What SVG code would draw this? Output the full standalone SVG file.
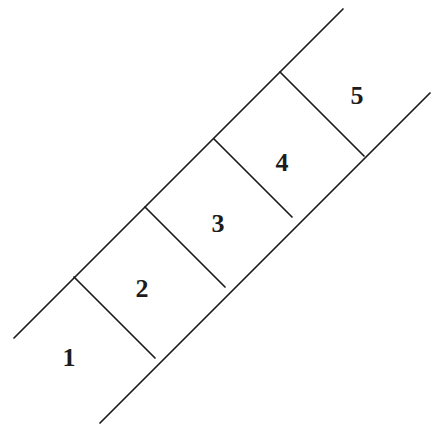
<svg xmlns="http://www.w3.org/2000/svg" width="432" height="424" viewBox="0 0 432 424">
  <style>
    .ln { stroke: #1c1c1c; stroke-width: 1.7; fill: none; stroke-linecap: round; }
    .lb { font-family: "Liberation Serif", "Times New Roman", serif; font-size: 26px; font-weight: bold; fill: #1c1c1c; text-anchor: middle; }
  </style>
  <rect width="432" height="424" fill="#ffffff"/>
  <g id="connectors">
    <line class="ln" x1="14" y1="338" x2="343" y2="9"/>
    <line class="ln" x1="100" y1="423" x2="430" y2="93"/>
    <line class="ln" x1="74" y1="277" x2="155" y2="358"/>
    <line class="ln" x1="145" y1="207" x2="225" y2="287"/>
    <line class="ln" x1="214" y1="139" x2="292" y2="217"/>
    <line class="ln" x1="280" y1="72" x2="364" y2="156"/>
  </g>
  <g id="cell1"><text class="lb" x="69" y="366">1</text></g>
  <g id="cell2"><text class="lb" x="142" y="297">2</text></g>
  <g id="cell3"><text class="lb" x="218" y="232">3</text></g>
  <g id="cell4"><text class="lb" x="282" y="171">4</text></g>
  <g id="cell5"><text class="lb" x="357" y="104">5</text></g>
</svg>
